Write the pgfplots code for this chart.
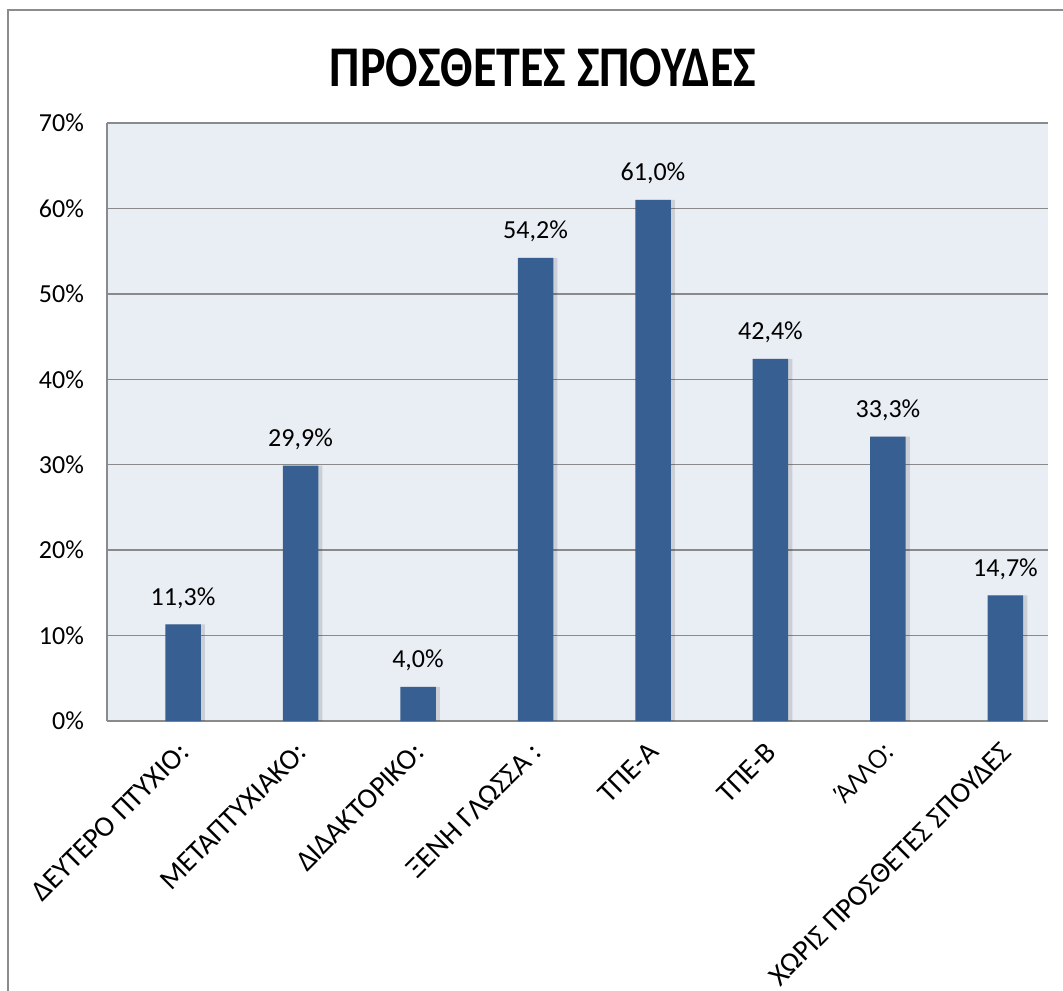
\documentclass[border=0pt]{standalone}
\usepackage{fontspec}
\setmainfont{Carlito}
\newfontfamily\altfont{Open Sans}
\usepackage{pgfplots}
\pgfplotsset{compat=1.18}
\usepackage{pgfplotstable}
\definecolor{barblue}{HTML}{375F92}
\definecolor{plotbg}{HTML}{E9EDF4}
\definecolor{gridgray}{HTML}{8A8A8A}
\definecolor{framegray}{HTML}{8C8C8C}
\newcommand{\Allo}{{\altfont\fontsize{12.5}{14}\selectfont Άλλο:}}
\pgfplotstableread{
x y lab
0 11.3 11,3\%
1 29.9 29,9\%
2 4.0 4,0\%
3 54.2 54,2\%
4 61.0 61,0\%
5 42.4 42,4\%
6 33.3 33,3\%
7 14.7 14,7\%
}\datatable
\begin{document}
\begin{tikzpicture}[x=0.5pt,y=0.5pt]
\clip (0,0) rectangle (1063,990);
\path[use as bounding box] (0,0) rectangle (1063,990);
\fill[white] (0,0) rectangle (1063,990);
\draw[framegray, line width=1.1pt] (8,-20) rectangle (1090,980);
\node[anchor=base, yscale=1.2, transform shape, font=\fontsize{24}{26}\selectfont\bfseries] at (543,903) {ΠΡΟΣΘΕΤΕΣ ΣΠΟΥΔΕΣ};
\begin{axis}[
  at={(53.5pt,134.5pt)}, anchor=south west,
  scale only axis, width=470.5pt, height=299pt,
  xmin=-0.647, xmax=7.362, ymin=0, ymax=70,
  ytick={0,10,...,70},
  yticklabel={\pgfmathprintnumber{\tick}\%},
  xtick={0,...,7},
  xticklabels={ΔΕΥΤΕΡΟ ΠΤΥΧΙΟ:, ΜΕΤΑΠΤΥΧΙΑΚΟ:, ΔΙΔΑΚΤΟΡΙΚΟ:, ΞΕΝΗ ΓΛΩΣΣΑ :, ΤΠΕ-Α, ΤΠΕ-Β, {\altfont\fontsize{12.5}{14}\selectfont ΆΛΛΟ:}, ΧΩΡΙΣ ΠΡΟΣΘΕΤΕΣ ΣΠΟΥΔΕΣ},
  major tick length=0pt,
  ymajorgrids,
  grid style={color=gridgray, line width=0.75pt},
  axis background/.style={fill=plotbg},
  axis x line*=bottom, axis y line*=left,
  axis line style={color=gridgray, line width=0.75pt},
  /pgf/number format/assume math mode=true,
  tick label style={font=\fontsize{13}{15}\selectfont},
  yticklabel style={anchor=east, xshift=-8pt},
  xticklabel style={rotate=45, anchor=north east, xshift=-5.5pt, yshift=-1.5pt, font=\fontsize{14.5}{16}\selectfont},
  ybar, bar width=17.75pt,
  point meta=explicit symbolic,
  every node near coord/.append style={anchor=base, yshift=9.5pt, font=\fontsize{13}{15}\selectfont, text=black},
]
\addplot[fill=black, fill opacity=0.12, draw=none, bar shift=1.2pt, bar width=19.5pt, forget plot] table[x=x, y=y] {\datatable};
\addplot[fill=barblue, draw=none, bar shift=0pt, nodes near coords] table[x=x, y=y, meta=lab] {\datatable};
\end{axis}
\end{tikzpicture}
\end{document}
